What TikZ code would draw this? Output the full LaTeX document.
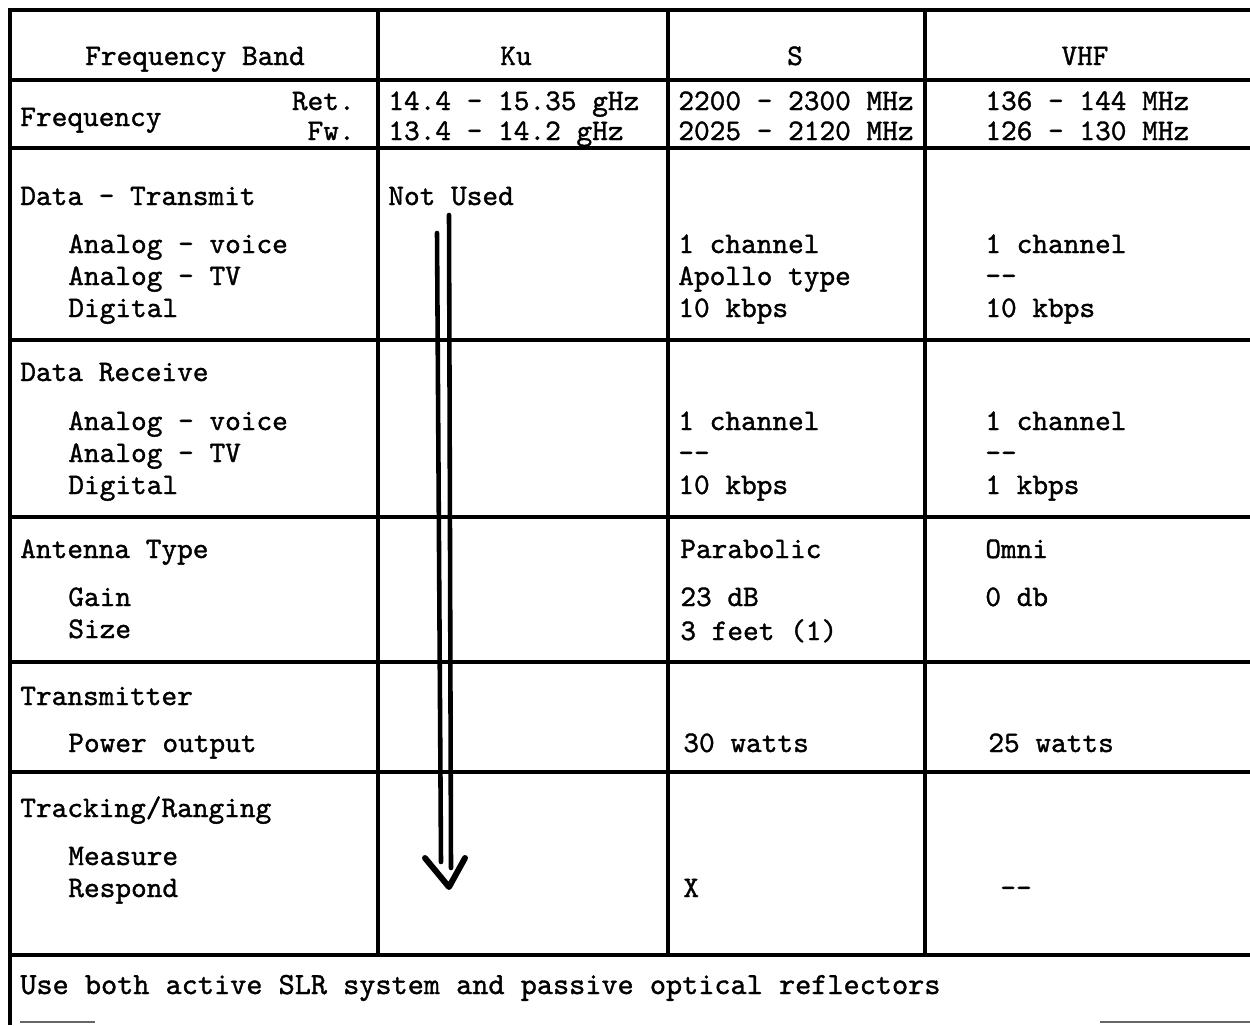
\documentclass[tikz,border=0pt]{standalone}
\usepackage{fontspec}
\setmonofont{lmmono10-regular.otf}[FakeBold=1.2]
\usepackage{tikz}

\begin{document}
\begin{tikzpicture}[x=0.02cm,y=-0.02cm,
  rule/.style={line width=2pt},
  txt/.style={anchor=base west,inner sep=0pt,font=\fontsize{17}{20}\ttfamily},
  txtc/.style={txt,anchor=base},
  txtr/.style={txt,anchor=base east}]
  \useasboundingbox (0,0) rectangle (1250,1025);
  % frame and rules
  \draw[rule] (10,8) -- (10,1025);
  \draw[rule] (10,10) -- (1250,10);
  \draw[rule] (10,80) -- (1250,80);
  \draw[rule] (10,148) -- (1250,148);
  \draw[rule] (10,340) -- (1250,340);
  \draw[rule] (10,517) -- (1250,517);
  \draw[rule] (10,662) -- (1250,662);
  \draw[rule] (10,772) -- (1250,772);
  \draw[rule] (10,955) -- (1250,955);
  \draw[rule] (378,10) -- (378,955);
  \draw[rule] (668,10) -- (668,955);
  \draw[rule] (925,10) -- (925,955);
  \draw[line width=1.2pt,black!60] (20,1022) -- (95,1022);
  \draw[line width=1.2pt,black!60] (1100,1022) -- (1250,1022);

  % header
  \node[txtc] at (195,65) (band) {Frequency Band};
  \node[txtc] at (516,65) (ku) {Ku};
  \node[txtc] at (795,65) (s) {S};
  \node[txtc] at (1085,65) (vhf) {VHF};

  % frequency
  \node[txt] at (20,126) (freq) {Frequency};
  \node[txtr] at (355,110) (ret) {Ret.};
  \node[txtr] at (355,140) (fw) {Fw.};
  \node[txt] at (388,110) (kuret) {14.4 - 15.35 gHz};
  \node[txt] at (388,140) (kufw) {13.4 - 14.2 gHz};
  \node[txt] at (678,110) (sret) {2200 - 2300 MHz};
  \node[txt] at (678,140) (sfw) {2025 - 2120 MHz};
  \node[txt] at (985,110) (vret) {136 - 144 MHz};
  \node[txt] at (985,140) (vfw) {126 - 130 MHz};

  % data transmit
  \node[txt] at (20,205) (dtx) {Data - Transmit};
  \node[txt] at (68,253) (dtxa) {Analog - voice};
  \node[txt] at (68,285) (dtxb) {Analog - TV};
  \node[txt] at (68,317) (dtxc) {Digital};
  \node[txt] at (388,205) (notused) {Not Used};
  \node[txt] at (678,253) (stxa) {1 channel};
  \node[txt] at (678,285) (stxb) {Apollo type};
  \node[txt] at (678,317) (stxc) {10 kbps};
  \node[txt] at (985,253) (vtxa) {1 channel};
  \node[txt] at (985,285) (vtxb) {--};
  \node[txt] at (985,317) (vtxc) {10 kbps};

  % data receive
  \node[txt] at (20,381) (drx) {Data Receive};
  \node[txt] at (68,430) (drxa) {Analog - voice};
  \node[txt] at (68,462) (drxb) {Analog - TV};
  \node[txt] at (68,494) (drxc) {Digital};
  \node[txt] at (678,430) (srxa) {1 channel};
  \node[txt] at (678,462) (srxb) {--};
  \node[txt] at (678,494) (srxc) {10 kbps};
  \node[txt] at (985,430) (vrxa) {1 channel};
  \node[txt] at (985,462) (vrxb) {--};
  \node[txt] at (985,494) (vrxc) {1 kbps};

  % antenna
  \node[txt] at (20,558) (ant) {Antenna Type};
  \node[txt] at (68,606) (gain) {Gain};
  \node[txt] at (68,638) (size) {Size};
  \node[txt] at (680,558) (sant) {Parabolic};
  \node[txt] at (680,606) (sgain) {23 dB};
  \node[txt] at (680,640) (ssize) {3 feet (1)};
  \node[txt] at (985,558) (vant) {Omni};
  \node[txt] at (985,606) (vgain) {0 db};

  % transmitter
  \node[txt] at (20,705) (tx) {Transmitter};
  \node[txt] at (68,752) (pout) {Power output};
  \node[txt] at (683,752) (spout) {30 watts};
  \node[txt] at (988,752) (vpout) {25 watts};

  % tracking
  \node[txt] at (20,817) (trk) {Tracking/Ranging};
  \node[txt] at (68,865) (meas) {Measure};
  \node[txt] at (68,897) (resp) {Respond};
  \node[txt] at (683,897) (sresp) {X};
  \node[txt] at (1000,897) (vresp) {--};

  % note
  \node[txt,font=\fontsize{17.5}{20}\ttfamily] at (20,994) (note) {Use both active SLR system and passive optical reflectors};

  % not used arrow
  \coordinate (la) at (437,233);
  \coordinate (lb) at (441,862);
  \coordinate (ra) at (449,215);
  \coordinate (rb) at (451,868);
  \coordinate (tip) at (449,887);
  \draw[line width=2.6pt,line cap=round] (la) -- (lb);
  \draw[line width=2.6pt,line cap=round] (ra) -- (rb);
  \draw[line width=3.4pt,line cap=round,line join=round] (425,858) -- (tip) -- (465,858);
\end{tikzpicture}
\end{document}
